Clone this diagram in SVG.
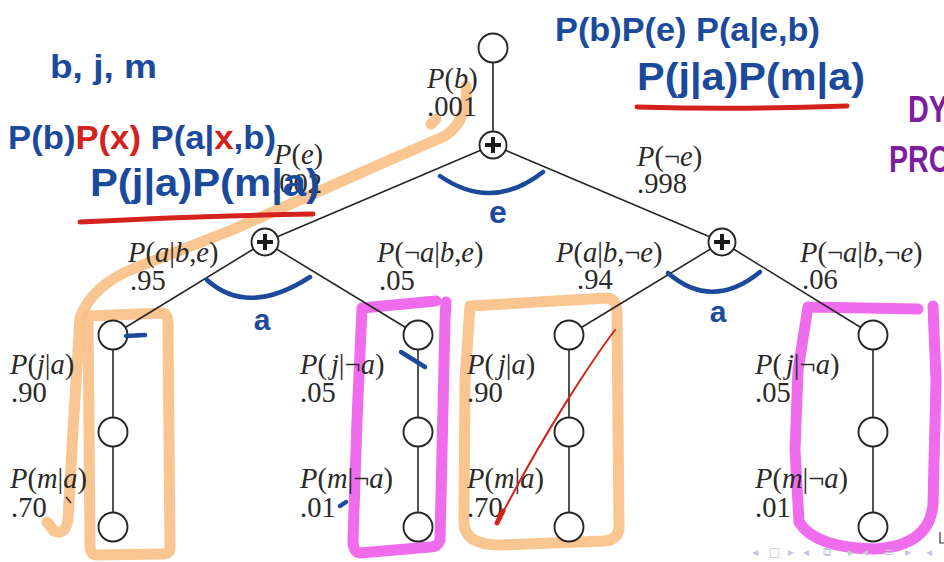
<svg xmlns="http://www.w3.org/2000/svg" width="944" height="562" viewBox="0 0 944 562">
<style>
.edge{stroke:#262626;stroke-width:1.6;fill:none}
.node{fill:#fff;stroke:#262626;stroke-width:1.9}
.plus{stroke:#1a1a1a;stroke-width:4;fill:none}
.lbl{font-family:"Liberation Serif","Times New Roman",serif;font-size:28.5px;fill:#2a2a2a}
.i{font-style:italic}
.hw{font-family:"Liberation Sans",Arial,sans-serif;font-weight:bold;fill:#1b4a9c}
.r{fill:#d4231c}
.orange{fill:none;stroke:#f8c088;stroke-width:11;stroke-linecap:round;stroke-linejoin:round;opacity:0.92}
.pink{fill:none;stroke:#ef6ced;stroke-width:11;stroke-linecap:round;stroke-linejoin:round}
.ink{fill:none;stroke:#1b4a9c;stroke-width:4.5;stroke-linecap:round}
.redink{fill:none;stroke:#d4231c;stroke-linecap:round}
.nav{font-family:"DejaVu Sans",sans-serif;font-size:12px;fill:#c6c6da}
</style>
<defs>
<path id="plusglyph" d="M-8,0 H8 M0,-8 V8" class="plus"/>
</defs>
<rect width="944" height="562" fill="#fff"/>

<g id="highlights">
<path class="orange" d="M466,86 C468,105 462,125 445,136 L385,162 L232,230 L135,268 Q92,285 80,318 L73,430 L68,520 Q65,536 54,531 L47,522"/>
<path class="orange" d="M431,124 L436,119"/>
<path class="orange" d="M88,316 L164,313 Q169,315 168,330 L170,548 Q170,554 162,554 L96,555 Q90,554 90,545 Z"/>
<path class="pink" d="M362,308 L436,301 M446,302 L445,320 L440,540 Q438,547 430,547 L360,553 Q353,552 353,540 L357,420 L362,308"/>
<path class="orange" d="M470,306 L608,298 Q616,299 617,312 L619,528 Q618,540 604,541 L500,545 Q464,545 464,522 L465,380 Z"/>
<path class="pink" d="M808,307 L918,309 M933,306 L936,380 L933,505 Q929,546 875,549 Q815,548 799,522 L795,450 L798,370 L808,307"/>
</g>

<g id="connectors">
<line class="edge" x1="493" y1="48" x2="493" y2="145"/>
<line class="edge" x1="493" y1="145" x2="265" y2="242"/>
<line class="edge" x1="493" y1="145" x2="722" y2="242"/>
<line class="edge" x1="265" y1="242" x2="113" y2="335"/>
<line class="edge" x1="265" y1="242" x2="418" y2="335"/>
<line class="edge" x1="722" y1="242" x2="569" y2="335"/>
<line class="edge" x1="722" y1="242" x2="873" y2="335"/>
<line class="edge" x1="113" y1="335" x2="113" y2="527"/>
<line class="edge" x1="418" y1="335" x2="418" y2="527"/>
<line class="edge" x1="569" y1="335" x2="569" y2="527"/>
<line class="edge" x1="873" y1="335" x2="873" y2="527"/>
</g>

<g id="n_root"><circle class="node" cx="493" cy="48" r="14.5"/></g>
<g id="n_sum_b"><circle class="node" cx="493" cy="145" r="13.5"/><use href="#plusglyph" x="493" y="145"/></g>
<g id="n_sum_e"><circle class="node" cx="265" cy="242" r="13.5"/><use href="#plusglyph" x="265" y="242"/></g>
<g id="n_sum_ne"><circle class="node" cx="722" cy="242" r="13.5"/><use href="#plusglyph" x="722" y="242"/></g>
<g id="n_a1"><circle class="node" cx="113" cy="335" r="14.5"/></g>
<g id="n_j1"><circle class="node" cx="113" cy="432" r="14.5"/></g>
<g id="n_m1"><circle class="node" cx="113" cy="527" r="14.5"/></g>
<g id="n_a2"><circle class="node" cx="418" cy="335" r="14.5"/></g>
<g id="n_j2"><circle class="node" cx="418" cy="432" r="14.5"/></g>
<g id="n_m2"><circle class="node" cx="418" cy="527" r="14.5"/></g>
<g id="n_a3"><circle class="node" cx="569" cy="335" r="14.5"/></g>
<g id="n_j3"><circle class="node" cx="569" cy="432" r="14.5"/></g>
<g id="n_m3"><circle class="node" cx="569" cy="527" r="14.5"/></g>
<g id="n_a4"><circle class="node" cx="873" cy="335" r="14.5"/></g>
<g id="n_j4"><circle class="node" cx="873" cy="432" r="14.5"/></g>
<g id="n_m4"><circle class="node" cx="873" cy="527" r="14.5"/></g>

<g id="labels">
<text class="lbl" x="427" y="88"><tspan class="i">P</tspan>(<tspan class="i">b</tspan>)</text>
<text class="lbl" x="427" y="116">.001</text>
<text class="lbl" x="274" y="164"><tspan class="i">P</tspan>(<tspan class="i">e</tspan>)</text>
<text class="lbl" x="272" y="193">.002</text>
<text class="lbl" x="637" y="166"><tspan class="i">P</tspan>(¬<tspan class="i">e</tspan>)</text>
<text class="lbl" x="637" y="193">.998</text>
<text class="lbl" x="128" y="262"><tspan class="i">P</tspan>(<tspan class="i">a</tspan>|<tspan class="i">b</tspan>,<tspan class="i">e</tspan>)</text>
<text class="lbl" x="130" y="290">.95</text>
<text class="lbl" x="377" y="262"><tspan class="i">P</tspan>(¬<tspan class="i">a</tspan>|<tspan class="i">b</tspan>,<tspan class="i">e</tspan>)</text>
<text class="lbl" x="379" y="290">.05</text>
<text class="lbl" x="556" y="262"><tspan class="i">P</tspan>(<tspan class="i">a</tspan>|<tspan class="i">b</tspan>,¬<tspan class="i">e</tspan>)</text>
<text class="lbl" x="577" y="289">.94</text>
<text class="lbl" x="800" y="262"><tspan class="i">P</tspan>(¬<tspan class="i">a</tspan>|<tspan class="i">b</tspan>,¬<tspan class="i">e</tspan>)</text>
<text class="lbl" x="802" y="289">.06</text>

<text class="lbl" x="10" y="374"><tspan class="i">P</tspan>(<tspan class="i">j</tspan>|<tspan class="i">a</tspan>)</text>
<text class="lbl" x="11" y="402">.90</text>
<text class="lbl" x="10" y="488"><tspan class="i">P</tspan>(<tspan class="i">m</tspan>|<tspan class="i">a</tspan>)</text>
<text class="lbl" x="11" y="517">.70</text>

<text class="lbl" x="300" y="374"><tspan class="i">P</tspan>(<tspan class="i" dx="4">j</tspan>|¬<tspan class="i">a</tspan>)</text>
<text class="lbl" x="300" y="402">.05</text>
<text class="lbl" x="300" y="488"><tspan class="i">P</tspan>(<tspan class="i">m</tspan>|¬<tspan class="i">a</tspan>)</text>
<text class="lbl" x="300" y="517">.01</text>

<text class="lbl" x="467" y="374"><tspan class="i">P</tspan>(<tspan class="i" dx="4">j</tspan>|<tspan class="i">a</tspan>)</text>
<text class="lbl" x="467" y="402">.90</text>
<text class="lbl" x="467" y="488"><tspan class="i">P</tspan>(<tspan class="i">m</tspan>|<tspan class="i">a</tspan>)</text>
<text class="lbl" x="467" y="517">.70</text>

<text class="lbl" x="755" y="374"><tspan class="i">P</tspan>(<tspan class="i" dx="4">j</tspan>|¬<tspan class="i">a</tspan>)</text>
<text class="lbl" x="755" y="402">.05</text>
<text class="lbl" x="755" y="488"><tspan class="i">P</tspan>(<tspan class="i">m</tspan>|¬<tspan class="i">a</tspan>)</text>
<text class="lbl" x="755" y="517">.01</text>
</g>

<g id="annotations">
<text class="hw" x="50" y="78" font-size="34" textLength="107" lengthAdjust="spacingAndGlyphs">b, j, m</text>
<text class="hw" x="8" y="149" font-size="34" textLength="268" lengthAdjust="spacingAndGlyphs">P(b)<tspan class="r">P(x)</tspan> P(a|<tspan class="r">x</tspan>,b)</text>
<text class="hw" x="90" y="196" font-size="38" textLength="230" lengthAdjust="spacingAndGlyphs">P(j|a)P(m|a)</text>
<path class="redink" stroke-width="5" d="M80,222 Q200,216 313,214"/>

<text class="hw" x="555" y="41" font-size="34" textLength="265" lengthAdjust="spacingAndGlyphs">P(b)P(e) P(a|e,b)</text>
<text class="hw" x="637" y="90" font-size="38" textLength="228" lengthAdjust="spacingAndGlyphs">P(j|a)P(m|a)</text>
<path class="redink" stroke-width="5" d="M637,107 Q740,110 847,106"/>

<text x="908" y="122" font-family="Liberation Sans, Arial, sans-serif" font-weight="bold" font-size="36" fill="#7e1e9e" textLength="40" lengthAdjust="spacingAndGlyphs">DY</text>
<text x="889" y="172" font-family="Liberation Sans, Arial, sans-serif" font-weight="bold" font-size="36" fill="#7e1e9e" textLength="62" lengthAdjust="spacingAndGlyphs">PRO</text>

<path class="ink" d="M440,176 Q492,212 543,172"/>
<text class="hw" x="498" y="223" font-size="32" text-anchor="middle">e</text>
<path class="ink" d="M207,280 Q248,317 310,277"/>
<text class="hw" x="262" y="330" font-size="30" text-anchor="middle">a</text>
<path class="ink" d="M668,273 Q712,311 760,272"/>
<text class="hw" x="718" y="322" font-size="30" text-anchor="middle">a</text>

<path class="ink" stroke-width="1.5" d="M126,336 L145,335"/>
<path class="ink" stroke-width="1.2" d="M401,352 L425,367"/>
<path class="ink" stroke-width="1.5" d="M340,506 L346,502"/>
<path fill="none" stroke="#333" stroke-width="1.5" d="M66,497 L71,503"/>

<path class="redink" stroke-width="2" d="M615,330 C596,355 545,430 498,522"/>
<path class="redink" stroke-width="5" d="M503,511 L497,523"/>
</g>

<g id="nav">
<text class="nav" x="752" y="556">◂</text>
<text class="nav" x="769" y="556">□</text>
<text class="nav" x="788" y="556">▸</text>
<text class="nav" x="803" y="556">◂</text>
<text class="nav" x="823" y="556">⧉</text>
<text class="nav" x="848" y="556">▸</text>
<text class="nav" x="862" y="556">◂</text>
<text class="nav" x="884" y="556">≡</text>
<text class="nav" x="905" y="556">▸</text>
<text class="nav" x="926" y="556">◂</text>
<path d="M940,532 V543 H944" fill="none" stroke="#333" stroke-width="1.2"/>
</g>
</svg>
